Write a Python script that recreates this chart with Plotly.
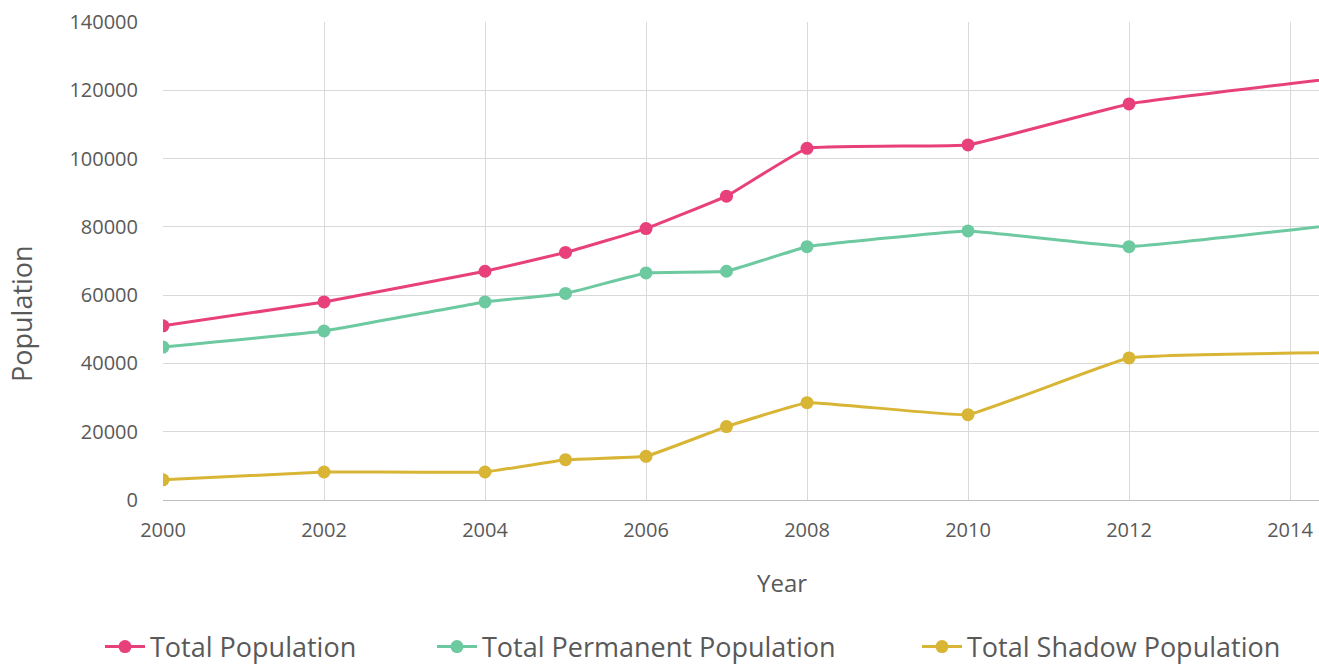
import plotly.graph_objects as go

years = [2000, 2002, 2004, 2005, 2006, 2007, 2008, 2010, 2012, 2016]
total_pop = [51000, 58000, 67000, 72500, 79500, 89000, 103000, 104000, 116000, 127500]
permanent_pop = [44800, 49500, 58000, 60500, 66500, 67000, 74200, 78800, 74200, 84500]
shadow_pop = [5900, 8200, 8200, 11800, 12800, 21500, 28500, 25000, 41600, 43500]

series_names = ["Total Population", "Total Permanent Population", "Total Shadow Population"]
colors = ["#E8407A", "#6CC9A0", "#D8B535"]
x_ticks = [2000, 2002, 2004, 2006, 2008, 2010, 2012, 2014]
y_ticks = [0, 20000, 40000, 60000, 80000, 100000, 120000, 140000]

W, H = 1319, 666
L, R, T, B = 163, 0, 22, 166
pw, ph = W - L - R, H - T - B

def px_x(p):
    return (p - L) / pw

def px_y(p):
    return (H - B - p) / ph

legend_ids = ["legend", "legend2", "legend3"]
legend_left_px = [100, 432, 917]

fig = go.Figure()
for name, vals, c, lg in zip(series_names, [total_pop, permanent_pop, shadow_pop], colors, legend_ids):
    fig.add_trace(go.Scatter(
        x=years, y=vals, name=name, mode="lines+markers",
        line=dict(color=c, width=3, shape="spline", smoothing=0.25),
        marker=dict(color=c, size=13),
        legend=lg,
    ))

legend_common = dict(
    orientation="h", xanchor="left", yanchor="middle", y=px_y(647),
    font=dict(size=27, color="#595959"), itemwidth=40, bgcolor="rgba(0,0,0,0)",
)
legend_layouts = {}
for lg, lx in zip(legend_ids, legend_left_px):
    d = dict(legend_common)
    d["x"] = px_x(lx)
    legend_layouts[lg] = d

fig.update_layout(
    width=W, height=H,
    margin=dict(l=L, r=R, t=T, b=B, autoexpand=False),
    plot_bgcolor="white", paper_bgcolor="white",
    font=dict(family="Open Sans", color="#595959"),
    showlegend=True,
    xaxis=dict(
        range=[2000, 2014.36], tickvals=x_ticks, ticktext=[str(v) for v in x_ticks],
        showgrid=True, gridcolor="#D9D9D9", gridwidth=1,
        showline=True, linecolor="#BFBFBF", linewidth=1,
        zeroline=False, tickfont=dict(size=20, color="#595959"),
        ticklabelstandoff=12, automargin=False,
    ),
    yaxis=dict(
        range=[0, 140000], tickvals=y_ticks, ticktext=[str(v) for v in y_ticks],
        showgrid=True, gridcolor="#D9D9D9", gridwidth=1,
        zeroline=False, showline=False,
        tickfont=dict(size=20, color="#595959"),
        ticklabelstandoff=24, automargin=False,
    ),
    annotations=[
        dict(text="Population", xref="paper", yref="paper", x=px_x(22), y=px_y(314),
             xanchor="center", yanchor="middle", textangle=-90, showarrow=False,
             font=dict(size=27, color="#595959")),
        dict(text="Year", xref="paper", yref="paper", x=px_x(782), y=px_y(582),
             xanchor="center", yanchor="middle", showarrow=False,
             font=dict(size=24, color="#595959")),
    ],
    **legend_layouts,
)

fig.write_html(
    "out.html",
    config={"displayModeBar": False},
    post_script="document.body.style.margin='0';document.body.style.overflow='hidden';",
)
